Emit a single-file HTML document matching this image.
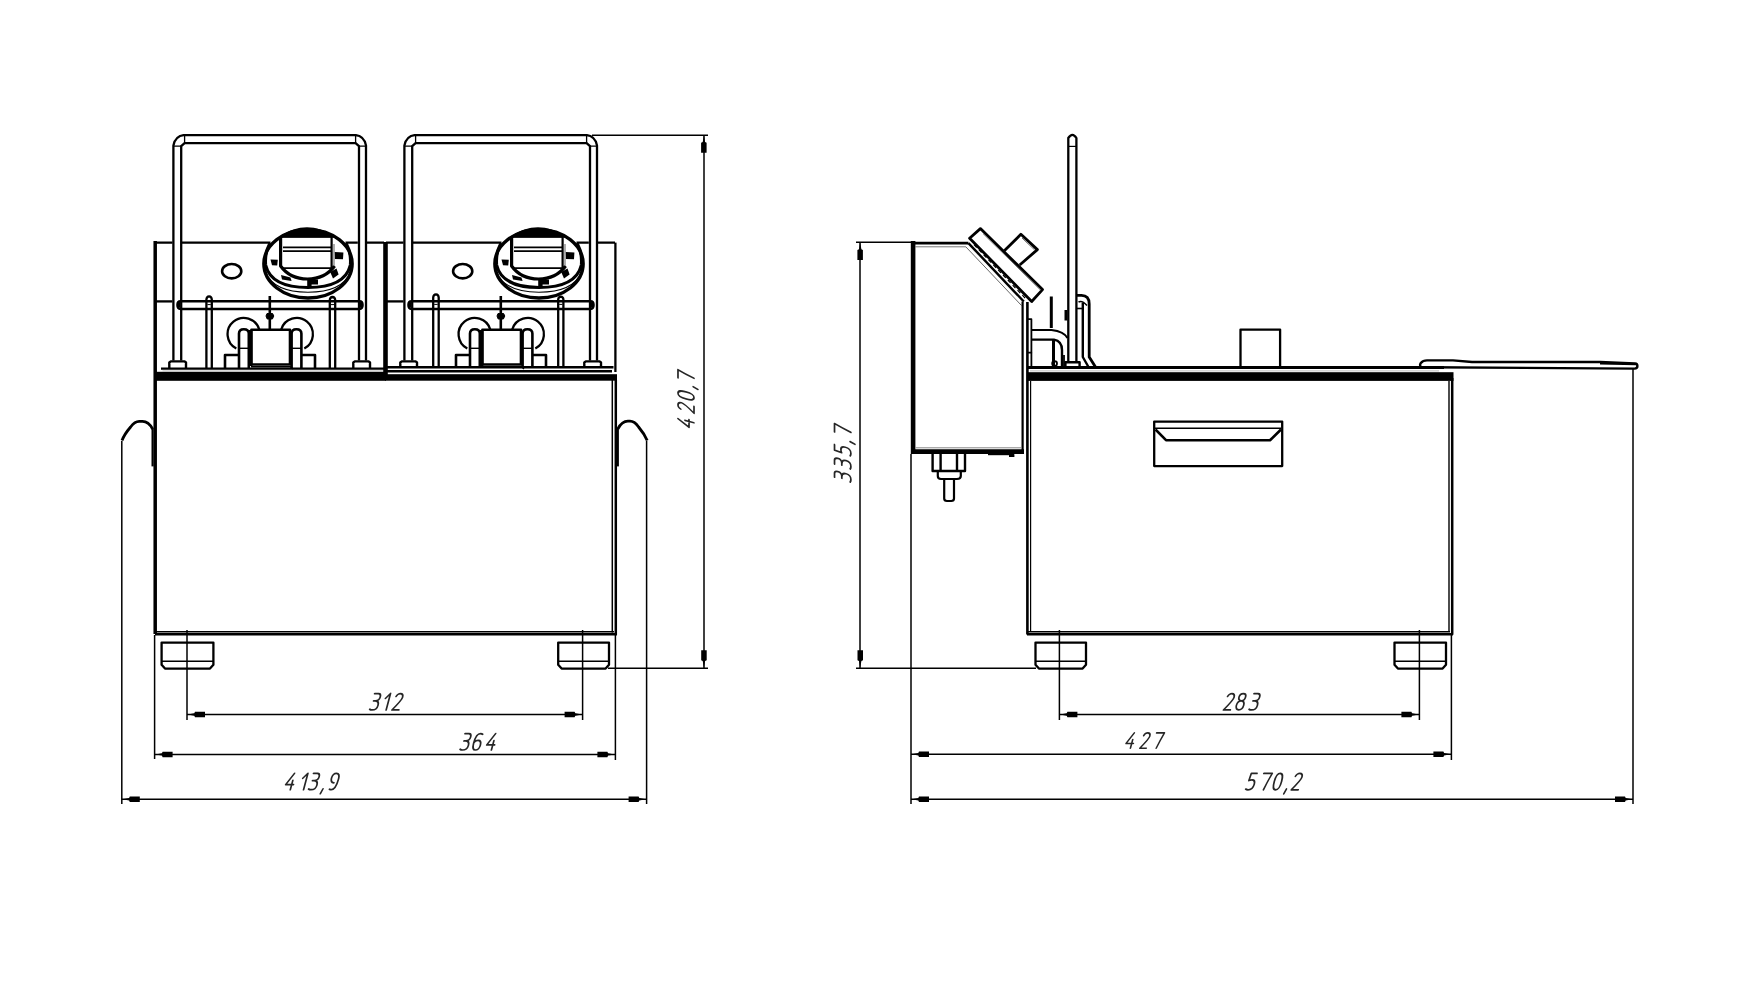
<!DOCTYPE html>
<html><head><meta charset="utf-8">
<style>
html,body{margin:0;padding:0;background:#fff;width:1762px;height:1000px;overflow:hidden}
svg{display:block}
</style></head><body>
<svg width="1762" height="1000" viewBox="0 0 1762 1000">
<g fill="none" stroke="#000" stroke-width="2.3" stroke-linejoin="round">
<!-- ============ LEFT VIEW ============ -->
<g id="u1">
  <!-- panel top -->
  <path d="M155,242.6 H172.5 M182,242.6 H270.5 M345.5,242.6 H357.8 M366.8,242.6 H384"/>
  <!-- panel mid line -->
  <path d="M155,301.4 H172.5"/>
  <!-- handle outer -->
  <path d="M173.4,360.6 V145.5 L174.6,141.4 Q176.5,137.6 180,136 L183.6,135.1 H355.8 L359.4,136 Q362.9,137.6 364.8,141.4 L366,145.5 V360.6"/>
  <!-- handle inner -->
  <path d="M181.2,360.6 V146.2 L184.6,143.1 H355.6 L359,146.2 V360.6"/>
  <path d="M173.4,146.2 H181.2 M184.6,135.1 V143.1 M355.6,135.1 V143.1 M359,146.2 H366" stroke-width="1.3"/>
  <!-- handle feet -->
  <path d="M169.3,368 V362.5 L170.8,361.4 H184.6 L186,362.5 V368" stroke-width="2.4"/>
  <path d="M353.3,368 V362.5 L354.8,361.4 H368.6 L370,362.5 V368" stroke-width="2.4"/>
  <!-- small oval -->
  <ellipse cx="231.7" cy="271.2" rx="9.6" ry="7.2" stroke-width="2.6"/>
  <!-- knob -->
  <ellipse cx="308" cy="263.8" rx="44.2" ry="34.2" stroke-width="3.3"/>
  <path d="M280,237 Q307,219 334,237 Z" fill="#000" stroke-width="1.5"/>
  <path d="M270,243 Q264.5,253 265.6,265 Q271,287.5 308,287.5 Q345,287.5 350.4,265 Q351.5,253 346,243" stroke-width="3.2"/>
  <path d="M265,272 Q274,292.2 308,292.2 Q342,292.2 351,272" stroke-width="1.1"/>
  <path d="M280.6,237 V266 Q290,279 307.5,279 Q325,279 334.6,266" stroke-width="3.2"/>
  <path d="M282.5,236.5 H332 M283,247.4 H331 M283,251.2 H331 M282.5,268.2 H332.5" stroke-width="1.8"/>
  <path d="M331.6,237 V268" stroke-width="2.2"/>
  <path d="M334,244 V266" stroke-width="1.2" stroke="#777"/>
  <g fill="#000" stroke="none">
    <path d="M270.5,259.5 L277.8,259.8 L277.2,265.4 L272,265.2 Z"/>
    <path d="M281,275 L290.5,277.5 L291.6,281 L282,279.5 Z"/>
    <path d="M307.2,279.6 H318 V284.5 H311.6 V287.6 H307.2 Z"/>
    <path d="M330.2,272 L336.5,268.5 L338.6,274.5 L333,278.6 Z"/>
    <path d="M334.8,252 L343.4,252.5 L343,259.3 L335,259 Z"/>
  </g>
  <!-- horizontal bar -->
  <path d="M180.5,301.2 H359.5 Q362.6,301.2 362.6,305.1 Q362.6,309 359.5,309 H180.5 Q177.4,309 177.4,305.1 Q177.4,301.2 180.5,301.2 Z" stroke-width="2.4"/>
  <path d="M178.8,302.5 V307.6 M361.2,302.5 V307.6" stroke-width="2.8"/>
  <!-- rods -->

  <!-- central rod -->
  <path d="M269.8,296 V329" stroke-width="2.6"/>
  <path d="M267,313.5 H272.6 L273.8,316 L272.4,319 H267.2 L266,316 Z" fill="#000" stroke-width="1"/>
  <!-- circles -->
  <path d="M236.3,348.5 A16.2,16.2 0 1 1 259.3,329.5" />
  <path d="M281.2,329.5 A16.2,16.2 0 1 1 304.3,348.5" />
  <!-- U-shapes -->
  <path d="M239,368 V333.5 Q239,329.2 243.8,329.2 Q248.8,329.2 248.8,333.5 V368" stroke-width="2.6"/>
  <path d="M239,348.3 H248.8" stroke-width="1.4"/>
  <path d="M291.6,368 V333.5 Q291.6,329.2 296.4,329.2 Q301.4,329.2 301.4,333.5 V368" stroke-width="2.6"/>
  <path d="M291.6,348.3 H301.4" stroke-width="1.4"/>
  <!-- square -->
  <path d="M251.4,329.8 H290 V364.5 H251.4 Z" stroke-width="2.6"/>
  <path d="M250.6,330 V366" stroke-width="3.6"/>
  <path d="M251,366.8 H290.6 L293,369" stroke-width="1.4"/>
  <!-- small rects -->
  <path d="M225,368 V355 H239 M301.4,355 H315 V368" stroke-width="2.6"/>
</g>
<use href="#u1" x="231" y="0"/>
<!-- rods -->
<path d="M206.4,368 V299.5 Q206.6,296.6 209.1,296.4 Q211.6,296.6 211.8,299.5 V368"/>
<path d="M207.4,304.6 H210.8" stroke-width="1"/>
<path d="M329.8,368 V300 Q330,297.2 332.5,297 Q335,297.2 335.2,300 V368"/>
<path d="M330.8,304.6 H334.2" stroke-width="1"/>
<path d="M433.2,367 V297.5 Q433.4,294.6 436,294.4 Q438.5,294.6 438.7,297.5 V367"/>
<path d="M434.2,304.4 H437.7" stroke-width="1"/>
<path d="M558.2,367 V299.5 Q558.4,296.8 560.8,296.6 Q563.2,296.8 563.4,299.5 V367"/>
<path d="M559.2,304.4 H562.4" stroke-width="1"/>
<!-- divider -->
<path d="M385.5,242 V378" stroke-width="4.6"/>
<!-- panel outer edges -->
<path d="M155.2,241 V634" stroke-width="3.5"/>
<path d="M615.4,242.6 V372" stroke-width="2.3"/>
<!-- base band -->
<path d="M161,368.6 H385" stroke-width="2.4"/>
<path d="M162.5,370.8 H383" stroke-width="1" stroke="#ccc"/>
<rect x="155" y="371.8" width="231" height="9" fill="#000" stroke="none"/>
<path d="M386,367.3 H613.5" stroke-width="2.4"/>
<path d="M386,371.2 H612" stroke-width="2.4"/>
<rect x="385" y="374.2" width="232" height="6.5" fill="#000" stroke="none"/>
<!-- main box -->
<path d="M612.3,380 V632.5" stroke-width="1.5"/>
<path d="M615.8,380 V634.8" stroke-width="2.5"/>
<path d="M155,631.7 H614" stroke-width="1.4"/>
<path d="M155,634.2 H617" stroke-width="2.6"/>
<!-- side handles -->
<path d="M122,440.5 Q124.5,434 130.6,427 Q134.7,421.4 139.2,421.4 H142.5 Q148.5,421.4 152.6,429" stroke-width="2.8"/>
<path d="M152.6,428 V466.4" stroke-width="2.2"/>
<path d="M647.2,440.5 Q644.5,434 638.6,427 Q634.5,421.2 630,421.2 H627.9 Q621.9,421.2 617.8,429" stroke-width="2.8"/>
<path d="M617.8,428 V466.4" stroke-width="2.2"/>
<!-- feet -->
<path d="M161.6,642.6 H213.4 V664.8 L210,668.6 H165 L161.6,664.8 Z"/><path d="M162,661.2 H213" stroke-width="1.4"/>
<path d="M558.2,642.6 H609 V664.8 L605.6,668.6 H561.6 L558.2,664.8 Z"/><path d="M558.6,661.2 H608.6" stroke-width="1.4"/>
</g>

<!-- LEFT dimensions -->
<g fill="none" stroke="#000" stroke-width="1.5">
  <path d="M187,630 V720"/>
  <path d="M582.6,630 V720"/>
  <path d="M187,714.4 H582.6"/>
  <path d="M154.6,635 V759"/>
  <path d="M615.4,635 V760"/>
  <path d="M154.6,754.4 H615.4"/>
  <path d="M121.8,441 V804"/>
  <path d="M646.6,441 V804"/>
  <path d="M121.8,799.2 H646.6"/>
  <path d="M592,135.2 H708"/>
  <path d="M608,668.2 H708"/>
  <path d="M704,135.2 V668.2"/>
</g>
<g fill="#000" stroke="none">
  <path transform="translate(187.8,714.5) scale(1,1)" d="M0,0 L6.5,-1.2 L7.2,-2.7 H17.2 V2.8 H7.2 L6.5,1.2 Z"/>
  <path transform="translate(581.8,714.5) scale(-1,1)" d="M0,0 L6.5,-1.2 L7.2,-2.7 H17.2 V2.8 H7.2 L6.5,1.2 Z"/>
  <path transform="translate(155.4,754.4) scale(1,1)" d="M0,0 L6.5,-1.2 L7.2,-2.7 H17.2 V2.8 H7.2 L6.5,1.2 Z"/>
  <path transform="translate(614.6,754.4) scale(-1,1)" d="M0,0 L6.5,-1.2 L7.2,-2.7 H17.2 V2.8 H7.2 L6.5,1.2 Z"/>
  <path transform="translate(122.6,799.3) scale(1,1)" d="M0,0 L6.5,-1.2 L7.2,-2.7 H17.2 V2.8 H7.2 L6.5,1.2 Z"/>
  <path transform="translate(645.8,799.3) scale(-1,1)" d="M0,0 L6.5,-1.2 L7.2,-2.7 H17.2 V2.8 H7.2 L6.5,1.2 Z"/>
  <path transform="translate(703.9,135.6) rotate(90)" d="M0,0 L6.5,-1.2 L7.2,-2.7 H17.2 V2.8 H7.2 L6.5,1.2 Z"/>
  <path transform="translate(703.9,667.4) rotate(-90)" d="M0,0 L6.5,-1.2 L7.2,-2.7 H17.2 V2.8 H7.2 L6.5,1.2 Z"/>
</g>

<!-- ============ RIGHT VIEW ============ -->
<g fill="none" stroke="#000" stroke-width="2.3" stroke-linejoin="round">
  <!-- control box -->
  <path d="M912,243.1 H968.4" stroke-width="2.8"/>
  <path d="M915.5,246.8 H966" stroke-width="1" stroke="#777"/>
  <path d="M913.1,241 V454" stroke-width="4.6"/>
  <path d="M911,451.6 H1024" stroke-width="4.6"/>
  <path d="M915.5,447.8 H1021" stroke-width="1" stroke="#888"/>
  <path d="M968.4,243.1 L1023.8,301.5" stroke-width="2.4"/>
  <path d="M966,247 L1021.5,305.5" stroke-width="1" stroke="#666"/>
  <path d="M974,244.6 L1026,299" stroke-width="1.2" stroke-dasharray="4 3"/>
  <path d="M1022.6,301.5 V454" stroke-width="2.2"/>
  <path d="M988,454 H1014" stroke-width="2.4"/>
  <path d="M1009,455.6 H1014.4" stroke-width="2.8"/>
  <!-- knob plate -->
  <path d="M969.6,238.2 L980.4,228.6 L1042.5,289.6 L1031.7,301.5 Z" stroke-width="2.8"/>
  <path d="M983,233.5 L1040.5,290" stroke-width="1" stroke="#666"/>
  <path d="M1004.3,250.8 L1020.9,234.3 L1037.4,249.6 L1019.7,265" stroke-width="2.8"/>
  <path d="M1022,238 L1034.5,249.8" stroke-width="1" stroke="#666"/>
  <!-- connector -->
  <path d="M932.6,454 V471 H965 V454" stroke-width="2.4"/>
  <path d="M940.6,454 V471 M957,454 V471" stroke-width="2.4"/>
  <path d="M937.8,471 V476 Q937.8,479 941,479 H957 Q960.8,479 960.8,476 V471" stroke-width="2.2"/>
  <path d="M944.2,479 V498.5 Q944.2,501 947,501 H951.2 Q954,501 954,498.5 V479" stroke-width="2.2"/>
  <!-- main box -->
  <path d="M1027.4,302 V634.5" stroke-width="2.6"/>
  <path d="M1030.6,381 V632" stroke-width="1.2"/>
  <path d="M1027,631.7 H1450" stroke-width="1.4"/>
  <path d="M1027,634.2 H1453" stroke-width="2.6"/>
  <path d="M1449,381 V632" stroke-width="1.4"/>
  <path d="M1452.2,378 V634.8" stroke-width="2.5"/>
  <!-- top band -->
  <path d="M1028,367.6 H1444" stroke-width="3"/>
  <path d="M1030,370.9 H1439" stroke-width="1" stroke="#bbb"/>
  <rect x="1027" y="372.2" width="426.5" height="8.7" fill="#000" stroke="none"/>
  <!-- small square top -->
  <rect x="1240.5" y="329.6" width="39.6" height="38"/>
  <!-- lid extension -->
  <path d="M1421,367.3 Q1419.4,365.3 1420.6,363.3 Q1423,360.4 1427,360.4 H1453 L1472,362 H1600 L1635,363.4 Q1637.4,363.6 1637.4,366 Q1637.4,368.6 1634.6,368.6 L1427,367.3" stroke-width="2.4"/>
  <path d="M1600,363.6 L1636,364.4" stroke-width="1.6"/>
  <!-- drawer handle -->
  <rect x="1154.2" y="421.6" width="128" height="44.5"/>
  <path d="M1155,428.3 H1281" stroke-width="1.4"/>
  <path d="M1155.5,429.5 L1166,440.2 H1270 L1281,429.5" stroke-width="2.6"/>
  <!-- pipe -->
  <path d="M1028,319.2 H1031.4 V352.6 H1028" stroke-width="1.8"/>
  <path d="M1031.4,352.6 V368" stroke-width="1.8"/>
  <path d="M1031.4,330 H1051.5 Q1064,331.5 1067.5,338" stroke-width="2.2"/>
  <path d="M1031.4,339.6 H1054 Q1062,341 1062,350 V367" stroke-width="2.4"/>
  <path d="M1051.3,296.5 V328 M1053.5,340 V366" stroke-width="3"/>
  <path d="M1064,366 V355" stroke-width="1.8"/>
  <circle cx="1054.6" cy="363.5" r="2.4" stroke-width="1.8"/>
  <!-- basket rod -->
  <path d="M1068.3,362 V138 Q1072.4,131.8 1076.4,138 V362" stroke-width="2.3"/>
  <path d="M1065.4,368 V362.2 H1079.6 V368" stroke-width="2.4"/>
  <path d="M1068.8,146.4 H1076" stroke-width="1.2"/>
  <path d="M1066,310 V320.5" stroke-width="3"/>
  <!-- hook -->
  <path d="M1076.6,295.4 H1081.5 Q1089.2,295.4 1089.2,304 V357 L1095.5,367" stroke-width="2.8"/>
  <path d="M1078.5,302 Q1082,300 1087,305.5" stroke-width="1.6"/>
  <path d="M1082.8,303 V357 L1088.5,367" stroke-width="2.4"/>
  <path d="M1077,308.5 H1082.8" stroke-width="1.6"/>
  <!-- feet -->
  <path d="M1035.5,642.6 H1086 V664.8 L1082.6,668.6 H1038.9 L1035.5,664.8 Z"/><path d="M1036,661.2 H1085.6" stroke-width="1.4"/>
  <path d="M1394.5,642.6 H1446 V664.8 L1442.6,668.6 H1397.9 L1394.5,664.8 Z"/><path d="M1395,661.2 H1445.6" stroke-width="1.4"/>
</g>
<!-- RIGHT dimensions -->
<g fill="none" stroke="#000" stroke-width="1.5">
  <path d="M856,242.2 H912"/>
  <path d="M856,668.2 H1036"/>
  <path d="M860,242.2 V668.2"/>
  <path d="M1059.4,630 V720"/>
  <path d="M1419.4,630 V720"/>
  <path d="M1059.4,714.4 H1419.4"/>
  <path d="M911,454 V804"/>
  <path d="M1451.4,634 V760"/>
  <path d="M911,754.2 H1451.4"/>
  <path d="M1633,368 V804"/>
  <path d="M911,799.2 H1633"/>
</g>
<g fill="#000" stroke="none">
  <path transform="translate(860.2,242.8) rotate(90)" d="M0,0 L6.5,-1.2 L7.2,-2.7 H17.2 V2.8 H7.2 L6.5,1.2 Z"/>
  <path transform="translate(860.2,667.4) rotate(-90)" d="M0,0 L6.5,-1.2 L7.2,-2.7 H17.2 V2.8 H7.2 L6.5,1.2 Z"/>
  <path transform="translate(1060.2,714.5) scale(1,1)" d="M0,0 L6.5,-1.2 L7.2,-2.7 H17.2 V2.8 H7.2 L6.5,1.2 Z"/>
  <path transform="translate(1418.6,714.5) scale(-1,1)" d="M0,0 L6.5,-1.2 L7.2,-2.7 H17.2 V2.8 H7.2 L6.5,1.2 Z"/>
  <path transform="translate(911.8,754.3) scale(1,1)" d="M0,0 L6.5,-1.2 L7.2,-2.7 H17.2 V2.8 H7.2 L6.5,1.2 Z"/>
  <path transform="translate(1450.6,754.3) scale(-1,1)" d="M0,0 L6.5,-1.2 L7.2,-2.7 H17.2 V2.8 H7.2 L6.5,1.2 Z"/>
  <path transform="translate(911.8,799.3) scale(1,1)" d="M0,0 L6.5,-1.2 L7.2,-2.7 H17.2 V2.8 H7.2 L6.5,1.2 Z"/>
  <path transform="translate(1632.2,799.3) scale(-1,1)" d="M0,0 L6.5,-1.2 L7.2,-2.7 H17.2 V2.8 H7.2 L6.5,1.2 Z"/>
</g>
<g fill="none" stroke="#262626" stroke-width="1.9" stroke-linecap="round" stroke-linejoin="round">
<path transform="translate(369.50,709.90) skewX(-15) scale(0.91)" d="M0.8,-18 H5 C7,-18 8,-16.4 8,-14.2 C8,-11.6 6.4,-10 3.6,-10 H1.8 M3.6,-10 C6.6,-10 8,-8 8,-5.2 C8,-1.8 6.2,0 3,0 C1.6,0 0.6,-0.4 0,-0.8"/>
<path transform="translate(380.50,709.90) skewX(-15) scale(0.91)" d="M2,-12.6 L6.2,-18 V0"/>
<path transform="translate(391.90,709.90) skewX(-15) scale(0.91)" d="M0.6,-14.8 C1.4,-17.2 2.8,-18 4.4,-18 C6.8,-18 8,-16.4 8,-14 C8,-11 5.5,-7.5 0,0 H7.6"/>
<path transform="translate(459.90,750.00) skewX(-15) scale(0.91)" d="M0.8,-18 H5 C7,-18 8,-16.4 8,-14.2 C8,-11.6 6.4,-10 3.6,-10 H1.8 M3.6,-10 C6.6,-10 8,-8 8,-5.2 C8,-1.8 6.2,0 3,0 C1.6,0 0.6,-0.4 0,-0.8"/>
<path transform="translate(471.80,750.00) skewX(-15) scale(0.91)" d="M7.4,-17.2 C6.6,-17.8 5.6,-18 4.6,-18 C1.4,-18 0,-14 0,-7.5 C0,-2.5 1.4,0 4,0 C6.6,0 8,-2.2 8,-5.2 C8,-8.4 6.4,-10.6 4,-10.6 C2,-10.6 0.6,-9.2 0.1,-7.6"/>
<path transform="translate(485.40,750.00) skewX(-15) scale(0.91)" d="M6.4,-18 L0,-5.6 H8.6 M6.6,-10.2 V0"/>
<path transform="translate(284.30,789.70) skewX(-15) scale(0.91)" d="M6.4,-18 L0,-5.6 H8.6 M6.6,-10.2 V0"/>
<path transform="translate(297.90,789.70) skewX(-15) scale(0.91)" d="M2,-12.6 L6.2,-18 V0"/>
<path transform="translate(308.40,789.70) skewX(-15) scale(0.91)" d="M0.8,-18 H5 C7,-18 8,-16.4 8,-14.2 C8,-11.6 6.4,-10 3.6,-10 H1.8 M3.6,-10 C6.6,-10 8,-8 8,-5.2 C8,-1.8 6.2,0 3,0 C1.6,0 0.6,-0.4 0,-0.8"/>
<path transform="translate(321.10,789.70) skewX(-15) scale(0.91)" d="M1.8,-0.9 L0.3,4.4"/>
<path transform="translate(328.40,789.70) skewX(-15) scale(0.91)" d="M4,-7.6 C1.4,-7.6 0,-9.6 0,-12.8 C0,-16 1.6,-18 4,-18 C6.6,-18 8,-15.8 8,-12 C8,-5 6.6,0 3.4,0 C2.4,0 1.6,-0.3 1,-0.6"/>
<path transform="translate(1223.40,709.90) skewX(-15) scale(0.91)" d="M0.6,-14.8 C1.4,-17.2 2.8,-18 4.4,-18 C6.8,-18 8,-16.4 8,-14 C8,-11 5.5,-7.5 0,0 H7.6"/>
<path transform="translate(1235.20,709.90) skewX(-15) scale(0.91)" d="M4,-18 C6.4,-18 7.6,-16.6 7.6,-14.2 C7.6,-11.6 6.2,-10 4,-10 C1.8,-10 0.4,-11.6 0.4,-14.2 C0.4,-16.6 1.6,-18 4,-18 Z M4,-10 C6.6,-10 8,-8 8,-5 C8,-1.8 6.4,0 4,0 C1.6,0 0,-1.8 0,-5 C0,-8 1.4,-10 4,-10 Z"/>
<path transform="translate(1248.90,709.90) skewX(-15) scale(0.91)" d="M0.8,-18 H5 C7,-18 8,-16.4 8,-14.2 C8,-11.6 6.4,-10 3.6,-10 H1.8 M3.6,-10 C6.6,-10 8,-8 8,-5.2 C8,-1.8 6.2,0 3,0 C1.6,0 0.6,-0.4 0,-0.8"/>
<path transform="translate(1124.80,748.20) skewX(-15) scale(0.85)" d="M6.4,-18 L0,-5.6 H8.6 M6.6,-10.2 V0"/>
<path transform="translate(1139.80,748.20) skewX(-15) scale(0.85)" d="M0.6,-14.8 C1.4,-17.2 2.8,-18 4.4,-18 C6.8,-18 8,-16.4 8,-14 C8,-11 5.5,-7.5 0,0 H7.6"/>
<path transform="translate(1153.00,748.20) skewX(-15) scale(0.85)" d="M-0.6,-18 H8.6 C7,-13 5.2,-6.5 3.8,0"/>
<path transform="translate(1245.50,789.80) skewX(-15) scale(0.91)" d="M7.8,-18 H1.6 L1,-10.2 C2,-10.8 3,-11 4.2,-11 C6.8,-11 8,-9 8,-6 C8,-2.2 6.2,0 3,0 C1.6,0 0.6,-0.4 0,-0.8"/>
<path transform="translate(1260.00,789.80) skewX(-15) scale(0.91)" d="M-0.6,-18 H8.6 C7,-13 5.2,-6.5 3.8,0"/>
<path transform="translate(1272.10,789.80) skewX(-15) scale(0.91)" d="M4,-18 C7.2,-18 8,-14.5 8,-9 C8,-3.5 7.2,0 4,0 C0.8,0 0,-3.5 0,-9 C0,-14.5 0.8,-18 4,-18 Z"/>
<path transform="translate(1284.60,789.80) skewX(-15) scale(0.91)" d="M1.8,-0.9 L0.3,4.4"/>
<path transform="translate(1291.30,789.80) skewX(-15) scale(0.91)" d="M0.6,-14.8 C1.4,-17.2 2.8,-18 4.4,-18 C6.8,-18 8,-16.4 8,-14 C8,-11 5.5,-7.5 0,0 H7.6"/>
<path transform="translate(694.00,428.50) rotate(-90) translate(-0.10,0) skewX(-15) scale(0.89)" d="M6.4,-18 L0,-5.6 H8.6 M6.6,-10.2 V0"/>
<path transform="translate(694.00,428.50) rotate(-90) translate(15.30,0) skewX(-15) scale(0.89)" d="M0.6,-14.8 C1.4,-17.2 2.8,-18 4.4,-18 C6.8,-18 8,-16.4 8,-14 C8,-11 5.5,-7.5 0,0 H7.6"/>
<path transform="translate(694.00,428.50) rotate(-90) translate(27.40,0) skewX(-15) scale(0.89)" d="M4,-18 C7.2,-18 8,-14.5 8,-9 C8,-3.5 7.2,0 4,0 C0.8,0 0,-3.5 0,-9 C0,-14.5 0.8,-18 4,-18 Z"/>
<path transform="translate(694.00,428.50) rotate(-90) translate(39.90,0) skewX(-15) scale(0.89)" d="M1.8,-0.9 L0.3,4.4"/>
<path transform="translate(694.00,428.50) rotate(-90) translate(46.90,0) skewX(-15) scale(0.89)" d="M-0.6,-18 H8.6 C7,-13 5.2,-6.5 3.8,0"/>
<path transform="translate(850.90,482.30) rotate(-90) translate(0.00,0) skewX(-15) scale(0.91)" d="M0.8,-18 H5 C7,-18 8,-16.4 8,-14.2 C8,-11.6 6.4,-10 3.6,-10 H1.8 M3.6,-10 C6.6,-10 8,-8 8,-5.2 C8,-1.8 6.2,0 3,0 C1.6,0 0.6,-0.4 0,-0.8"/>
<path transform="translate(850.90,482.30) rotate(-90) translate(13.10,0) skewX(-15) scale(0.91)" d="M0.8,-18 H5 C7,-18 8,-16.4 8,-14.2 C8,-11.6 6.4,-10 3.6,-10 H1.8 M3.6,-10 C6.6,-10 8,-8 8,-5.2 C8,-1.8 6.2,0 3,0 C1.6,0 0.6,-0.4 0,-0.8"/>
<path transform="translate(850.90,482.30) rotate(-90) translate(26.30,0) skewX(-15) scale(0.91)" d="M7.8,-18 H1.6 L1,-10.2 C2,-10.8 3,-11 4.2,-11 C6.8,-11 8,-9 8,-6 C8,-2.2 6.2,0 3,0 C1.6,0 0.6,-0.4 0,-0.8"/>
<path transform="translate(850.90,482.30) rotate(-90) translate(38.80,0) skewX(-15) scale(0.91)" d="M1.8,-0.9 L0.3,4.4"/>
<path transform="translate(850.90,482.30) rotate(-90) translate(46.50,0) skewX(-15) scale(0.91)" d="M-0.6,-18 H8.6 C7,-13 5.2,-6.5 3.8,0"/>
</g>
</svg>
</body></html>
